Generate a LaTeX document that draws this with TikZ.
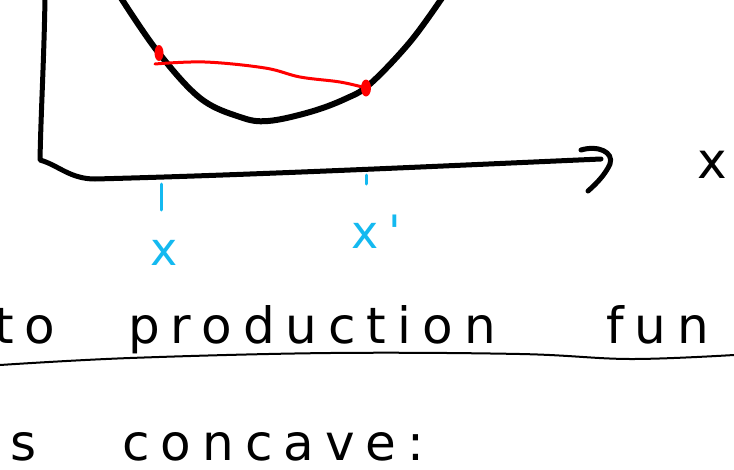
\documentclass[tikz,border=0pt]{standalone}
\usepackage{fontspec}
\newfontfamily\handfont[LetterSpace=22]{DejaVu Sans}
\definecolor{handblue}{RGB}{20,185,240}
\tikzset{
  hand/.style={font=\handfont\fontsize{50}{50}\selectfont, inner sep=0pt},
  bluehand/.style={font=\handfont\fontsize{46}{46}\selectfont, text=handblue, inner sep=0pt}
}
\begin{document}
\begin{tikzpicture}[x=1pt, y=-1pt, line cap=round, line join=round]
\useasboundingbox (0,0) rectangle (734,469);
\clip (0,0) rectangle (734,469);

% Axes
\draw[line width=5pt] (45,-2) .. controls (44,60) and (41,110) .. (40,160)
  .. controls (58,165) and (70,179) .. (95,179)
  .. controls (250,175) and (420,167) .. (601,159);
\draw[line width=5pt] (581,150) .. controls (598,145) and (614,152) .. (610,164)
  .. controls (605,175) and (596,184) .. (588,191);
\node[hand, anchor=base] (xlab) at (712,178) {x};

% Curve
\draw[line width=6pt] plot[smooth, tension=0.6] coordinates
  {(121,-2) (158,52) (200,98) (240,117) (268,121) (310,112) (345,99) (370,84) (410,42) (442,-2)};

% Chord
\draw[red, line width=3pt] plot[smooth, tension=0.6] coordinates
  {(155,64) (205,62) (265,68) (300,77) (340,82) (366,88)};
\fill[red] (159,53) ellipse (4.5pt and 8pt);
\fill[red] (366,88) ellipse (5pt and 8.5pt);

% Points on the axis
\draw[handblue, line width=3pt] (161,184) -- (161,210);
\draw[handblue, line width=3pt] (366,175) -- (366,184);
\node[bluehand, anchor=base] (xone) at (164,265) {x};
\node[bluehand, anchor=base] (xtwo) at (376,248) {x'};

% Text
\node[hand, anchor=base west] (to) at (-6,343) {to};
\node[hand, anchor=base west] (prod) at (128,343) {production};
\node[hand, anchor=base west] (fun) at (606,343) {fun};
\draw[line width=2pt] plot[smooth, tension=0.6] coordinates
  {(0,365) (130,358) (330,353) (520,354) (630,359) (734,355)};
\node[hand, anchor=base west] (s) at (10,460) {s};
\node[hand, anchor=base west] (concave) at (122,460) {concave:};

\end{tikzpicture}
\end{document}
